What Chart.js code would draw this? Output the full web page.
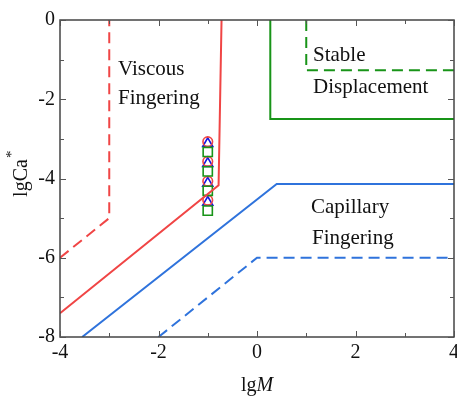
<!DOCTYPE html>
<html>
<head>
<meta charset="utf-8">
<script src="https://cdn.jsdelivr.net/npm/chart.js@4"></script>
<style>
  html, body { margin: 0; padding: 0; background: #fff; }
  #clip { width: 457px; height: 396px; overflow: hidden; }
  #wrap { width: 463px; height: 396px; }
</style>
</head>
<body>
<div id="clip"><div id="wrap"><canvas id="phaseChart"></canvas></div></div>
<script>
// boundary lines (lgM, lgCa*)
const redSolidX = [-4, -0.78, -0.72];
const redSolidY = [-7.4, -4.17, 0];
const redDashX = [-4, -3, -3];
const redDashY = [-6, -5, 0];
const blueSolidX = [-3.55, 0.4, 4];
const blueSolidY = [-8, -4.14, -4.14];
const blueDashX = [-2, 0, 4];
const blueDashY = [-8, -6, -6];
const greenSolidX = [0.27, 0.27, 4];
const greenSolidY = [0, -2.5, -2.5];
const greenDashX = [1, 1, 4];
const greenDashY = [0, -1.27, -1.27];

// experiment points at lgM = -1
const markerX = [-1, -1, -1, -1];
const circleY = [-3.07, -3.57, -4.07, -4.55];
const triangleY = [-3.12, -3.62, -4.12, -4.6];
const squareY = [-3.33, -3.82, -4.31, -4.81];

const xTicks = [-4, -2, 0, 2, 4];
const yTicks = [-8, -6, -4, -2, 0];

const RED = "#f04545";
const BLUE = "#2f73dc";
const GREEN = "#189418";
const SERIF = "'Liberation Serif', 'Times New Roman', serif";

function pts(xs, ys) {
    return xs.map((x, i) => ({ x: x, y: ys[i] }));
}

function lineSet(xs, ys, color, dashed) {
    return {
        data: pts(xs, ys),
        showLine: true,
        borderColor: color,
        borderWidth: 2,
        borderDash: dashed ? [11, 6] : [],
        pointRadius: 0,
        fill: false
    };
}

function markerSet(ys, color, style, radius) {
    return {
        data: pts(markerX, ys),
        showLine: false,
        pointStyle: style,
        pointRadius: radius,
        pointBorderColor: color,
        pointBackgroundColor: "rgba(0,0,0,0)",
        pointBorderWidth: 1.6
    };
}

const frame = {
    id: "frame",
    afterDatasetsDraw(chart) {
        const ctx = chart.ctx;
        const a = chart.chartArea;
        const xs = chart.scales.x;
        const ys = chart.scales.y;
        ctx.save();
        ctx.strokeStyle = "#444";
        ctx.lineWidth = 1.5;
        ctx.strokeRect(a.left, a.top, a.right - a.left, a.bottom - a.top);
        ctx.lineWidth = 1;
        ctx.strokeStyle = "#555";
        ctx.beginPath();
        for (let v = -4; v <= 4; v++) {
            const len = v % 2 === 0 ? 6 : 4;
            const p = Math.round(xs.getPixelForValue(v)) + 0.5;
            ctx.moveTo(p, a.bottom); ctx.lineTo(p, a.bottom - len);
            ctx.moveTo(p, a.top); ctx.lineTo(p, a.top + len);
        }
        for (let v = -8; v <= 0; v++) {
            const len = v % 2 === 0 ? 6 : 4;
            const p = Math.round(ys.getPixelForValue(v)) + 0.5;
            ctx.moveTo(a.left, p); ctx.lineTo(a.left + len, p);
            ctx.moveTo(a.right, p); ctx.lineTo(a.right - len, p);
        }
        ctx.stroke();

        // region labels
        ctx.fillStyle = "#111";
        ctx.font = "21px " + SERIF;
        ctx.textBaseline = "alphabetic";
        ctx.textAlign = "left";
        ctx.fillText("Viscous", 118, 75);
        ctx.fillText("Fingering", 118, 104);
        ctx.fillText("Stable", 313, 61);
        ctx.fillText("Displacement", 313, 93);
        ctx.fillText("Capillary", 311, 213);
        ctx.fillText("Fingering", 312, 244);

        // axis titles
        ctx.font = "20px " + SERIF;
        const w1 = ctx.measureText("lg").width;
        ctx.font = "italic 20px " + SERIF;
        const w2 = ctx.measureText("M").width;
        let x0 = (a.left + a.right) / 2 - (w1 + w2) / 2;
        ctx.font = "20px " + SERIF;
        ctx.fillText("lg", x0, 391);
        ctx.font = "italic 20px " + SERIF;
        ctx.fillText("M", x0 + w1, 391);

        ctx.translate(27, 174);
        ctx.rotate(-Math.PI / 2);
        ctx.font = "20px " + SERIF;
        const w3 = ctx.measureText("lgCa").width;
        ctx.fillText("lgCa", -w3 / 2 - 4, 0);
        ctx.font = "15px " + SERIF;
        ctx.fillText("*", w3 / 2 - 3, -11);
        ctx.restore();
    }
};

new Chart(document.getElementById("phaseChart"), {
    type: "scatter",
    data: {
        datasets: [
            lineSet(redSolidX, redSolidY, RED, false),
            lineSet(redDashX, redDashY, RED, true),
            lineSet(blueSolidX, blueSolidY, BLUE, false),
            lineSet(blueDashX, blueDashY, BLUE, true),
            lineSet(greenSolidX, greenSolidY, GREEN, false),
            lineSet(greenDashX, greenDashY, GREEN, true),
            markerSet(squareY, GREEN, "rect", 6.5),
            markerSet(circleY, RED, "circle", 4.8),
            markerSet(triangleY, "#1515e0", "triangle", 5.8)
        ]
    },
    options: {
        responsive: true,
        maintainAspectRatio: false,
        animation: false,
        events: [],
        layout: { padding: { top: 20, right: 0, left: 0, bottom: 0 } },
        plugins: {
            legend: { display: false },
            tooltip: { enabled: false }
        },
        scales: {
            x: {
                type: "linear",
                min: -4,
                max: 4,
                grid: { display: false, drawTicks: false },
                border: { display: false },
                afterBuildTicks(scale) {
                    scale.ticks = xTicks.map(v => ({ value: v }));
                },
                afterFit(scale) {
                    scale.height = 59;
                },
                ticks: {
                    padding: 4,
                    color: "#111",
                    font: { family: SERIF, size: 20 }
                }
            },
            y: {
                type: "linear",
                min: -8,
                max: 0,
                grid: { display: false, drawTicks: false },
                border: { display: false },
                afterBuildTicks(scale) {
                    scale.ticks = yTicks.map(v => ({ value: v }));
                },
                afterFit(scale) {
                    scale.width = 60;
                },
                ticks: {
                    padding: 5,
                    color: "#111",
                    font: { family: SERIF, size: 20 }
                }
            }
        }
    },
    plugins: [frame]
});
</script>
</body>
</html>
